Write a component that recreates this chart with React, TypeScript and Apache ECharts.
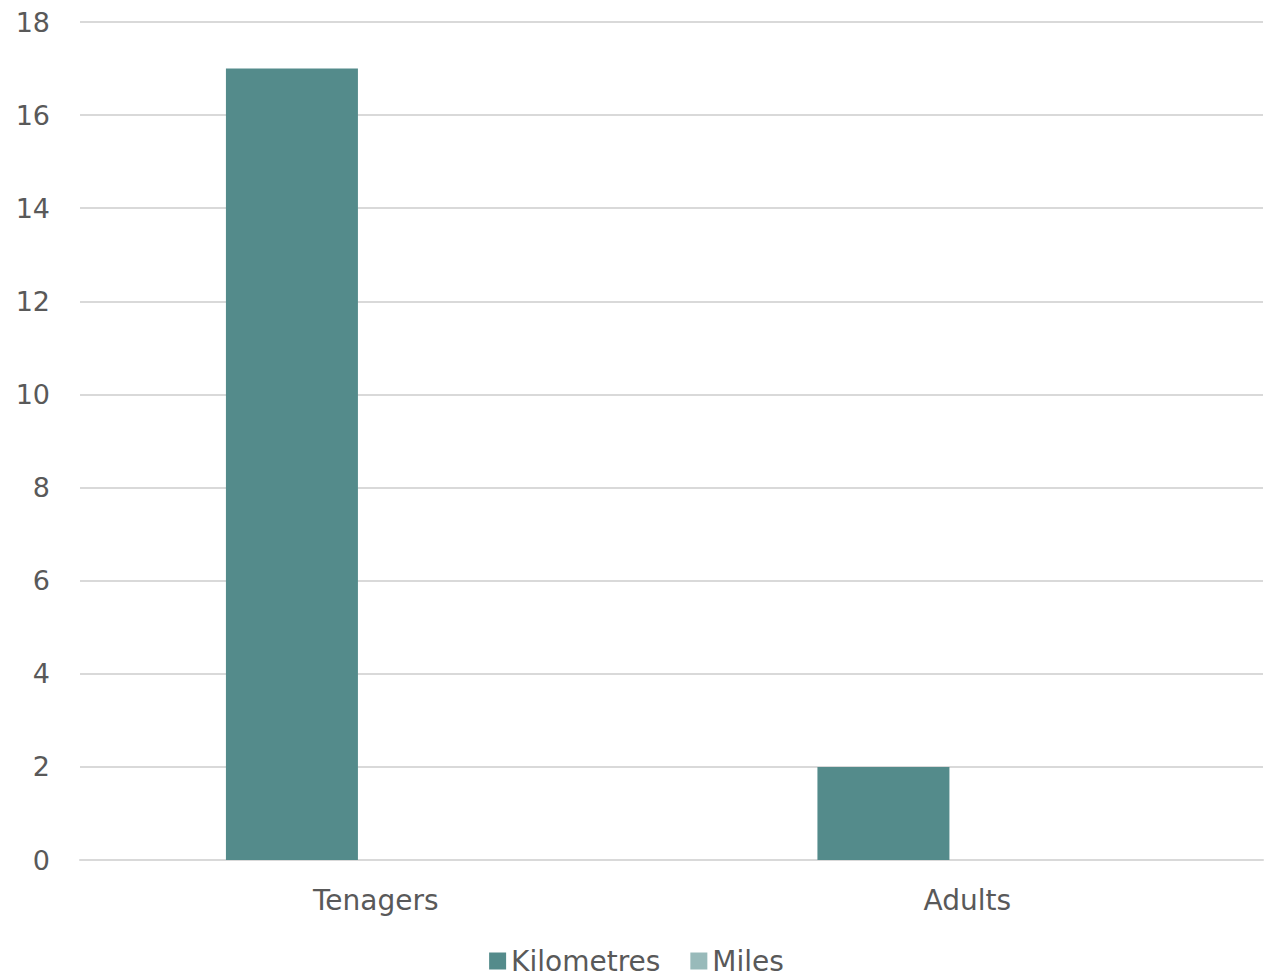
import React, { useEffect, useRef } from "react";
import * as echarts from "echarts";

const categories = ["Tenagers", "Adults"];
const kilometres = [17, 2];
const miles = [0, 0];
const yTicks = { min: 0, max: 18, interval: 2 };

export default function App() {
  const ref = useRef<HTMLDivElement>(null);
  useEffect(() => {
    if (!ref.current) return;
    const chart = echarts.init(ref.current, undefined, { renderer: "svg" });
    const font = "'Century Gothic', 'DejaVu Sans', sans-serif";
    chart.setOption({
      animation: false,
      backgroundColor: "#ffffff",
      textStyle: { fontFamily: font, color: "#595959" },
      grid: { left: 80, right: 10, top: 22, bottom: 120, containLabel: false },
      legend: {
        bottom: 0,
        left: "center",
        itemWidth: 17,
        itemHeight: 17,
        itemGap: 30,
        icon: "rect",
        textStyle: { fontSize: 28, color: "#595959", fontFamily: font },
        data: ["Kilometres", "Miles"],
      },
      xAxis: {
        type: "category",
        data: categories,
        axisTick: { show: false },
        axisLine: { show: true, lineStyle: { color: "#d9d9d9", width: 2 } },
        axisLabel: { fontSize: 28, color: "#595959", margin: 26, fontFamily: font },
      },
      yAxis: {
        type: "value",
        min: yTicks.min,
        max: yTicks.max,
        interval: yTicks.interval,
        axisLine: { show: false },
        axisTick: { show: false },
        splitLine: { lineStyle: { color: "#d9d9d9", width: 2 } },
        axisLabel: { fontSize: 27, color: "#595959", margin: 30, fontFamily: font },
      },
      series: [
        {
          name: "Kilometres",
          type: "bar",
          data: kilometres,
          barWidth: 132,
          barGap: "27%",
          itemStyle: { color: "#548b8b" },
        },
        {
          name: "Miles",
          type: "bar",
          data: miles,
          barWidth: 132,
          itemStyle: { color: "#98baba" },
        },
      ],
    });
    return () => chart.dispose();
  }, []);
  return (
    <div
      ref={ref}
      style={{ position: "fixed", left: 0, top: 0, width: 1273, height: 980 }}
    />
  );
}
